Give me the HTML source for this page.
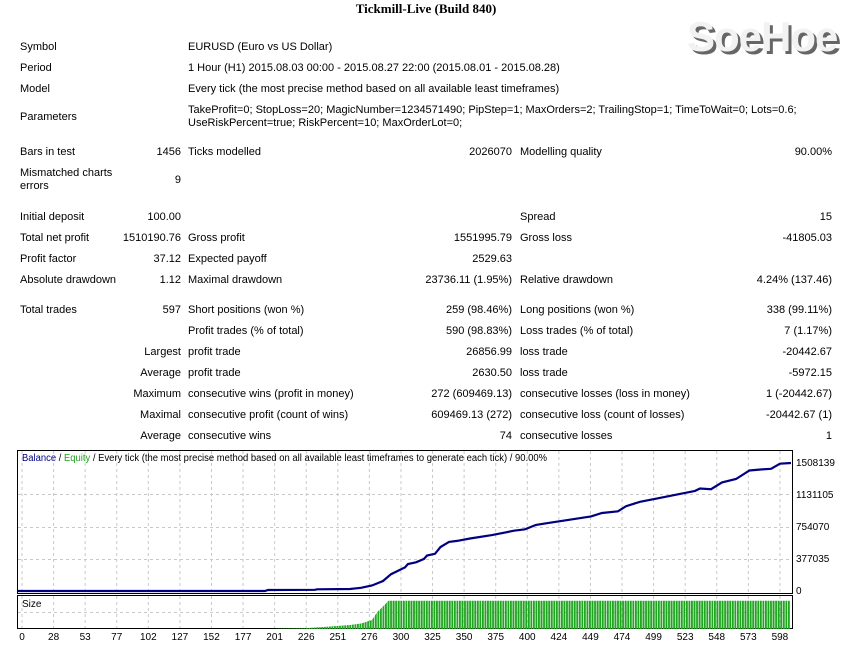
<!DOCTYPE html>
<html><head><meta charset="utf-8"><style>
body{margin:0;width:861px;height:650px;background:#fff;position:relative;overflow:hidden;font-family:"Liberation Sans",sans-serif;font-size:11px;color:#000}
.t{position:absolute;white-space:nowrap;line-height:13px}
.r{text-align:right}
#tb{position:absolute;left:0;top:1px;width:861px;height:450px}
</style></head><body>
<div class="t" style="left:0;width:852px;top:2px;text-align:center;font-family:'Liberation Serif',serif;font-weight:bold;font-size:13px">Tickmill-Live (Build 840)</div>
<div class="t" style="left:687px;top:15px;font-size:42px;line-height:44px;font-weight:bold;color:#f2f2f2;text-shadow:3px 3px 0 #666;letter-spacing:-1px">SoeHoe</div>
<div id="tb">
<div class="t" style="left:20px;top:40px">Symbol</div><div class="t" style="left:188px;top:40px">EURUSD (Euro vs US Dollar)</div>
<div class="t" style="left:20px;top:61px">Period</div><div class="t" style="left:188px;top:61px">1 Hour (H1) 2015.08.03 00:00 - 2015.08.27 22:00 (2015.08.01 - 2015.08.28)</div>
<div class="t" style="left:20px;top:82px">Model</div><div class="t" style="left:188px;top:82px">Every tick (the most precise method based on all available least timeframes)</div>
<div class="t" style="left:20px;top:110px">Parameters</div><div class="t" style="left:188px;top:103px">TakeProfit=0; StopLoss=20; MagicNumber=1234571490; PipStep=1; MaxOrders=2; TrailingStop=1; TimeToWait=0; Lots=0.6;<br>UseRiskPercent=true; RiskPercent=10; MaxOrderLot=0;</div>

<div class="t" style="left:20px;top:145px">Bars in test</div><div class="t r" style="left:100px;width:81px;top:145px">1456</div><div class="t" style="left:188px;top:145px">Ticks modelled</div><div class="t r" style="left:400px;width:112px;top:145px">2026070</div><div class="t" style="left:520px;top:145px">Modelling quality</div><div class="t r" style="left:700px;width:132px;top:145px">90.00%</div>
<div class="t" style="left:20px;top:166px">Mismatched charts<br>errors</div><div class="t r" style="left:100px;width:81px;top:173px">9</div>

<div class="t" style="left:20px;top:210px">Initial deposit</div><div class="t r" style="left:100px;width:81px;top:210px">100.00</div><div class="t" style="left:520px;top:210px">Spread</div><div class="t r" style="left:700px;width:132px;top:210px">15</div>
<div class="t" style="left:20px;top:231px">Total net profit</div><div class="t r" style="left:60px;width:121px;top:231px">1510190.76</div><div class="t" style="left:188px;top:231px">Gross profit</div><div class="t r" style="left:400px;width:112px;top:231px">1551995.79</div><div class="t" style="left:520px;top:231px">Gross loss</div><div class="t r" style="left:700px;width:132px;top:231px">-41805.03</div>
<div class="t" style="left:20px;top:252px">Profit factor</div><div class="t r" style="left:100px;width:81px;top:252px">37.12</div><div class="t" style="left:188px;top:252px">Expected payoff</div><div class="t r" style="left:400px;width:112px;top:252px">2529.63</div>
<div class="t" style="left:20px;top:273px">Absolute drawdown</div><div class="t r" style="left:100px;width:81px;top:273px">1.12</div><div class="t" style="left:188px;top:273px">Maximal drawdown</div><div class="t r" style="left:380px;width:132px;top:273px">23736.11 (1.95%)</div><div class="t" style="left:520px;top:273px">Relative drawdown</div><div class="t r" style="left:700px;width:132px;top:273px">4.24% (137.46)</div>

<div class="t" style="left:20px;top:303px">Total trades</div><div class="t r" style="left:100px;width:81px;top:303px">597</div><div class="t" style="left:188px;top:303px">Short positions (won %)</div><div class="t r" style="left:380px;width:132px;top:303px">259 (98.46%)</div><div class="t" style="left:520px;top:303px">Long positions (won %)</div><div class="t r" style="left:700px;width:132px;top:303px">338 (99.11%)</div>
<div class="t" style="left:188px;top:324px">Profit trades (% of total)</div><div class="t r" style="left:380px;width:132px;top:324px">590 (98.83%)</div><div class="t" style="left:520px;top:324px">Loss trades (% of total)</div><div class="t r" style="left:700px;width:132px;top:324px">7 (1.17%)</div>
<div class="t r" style="left:60px;width:121px;top:345px">Largest</div><div class="t" style="left:188px;top:345px">profit trade</div><div class="t r" style="left:380px;width:132px;top:345px">26856.99</div><div class="t" style="left:520px;top:345px">loss trade</div><div class="t r" style="left:700px;width:132px;top:345px">-20442.67</div>
<div class="t r" style="left:60px;width:121px;top:366px">Average</div><div class="t" style="left:188px;top:366px">profit trade</div><div class="t r" style="left:380px;width:132px;top:366px">2630.50</div><div class="t" style="left:520px;top:366px">loss trade</div><div class="t r" style="left:700px;width:132px;top:366px">-5972.15</div>
<div class="t r" style="left:60px;width:121px;top:387px">Maximum</div><div class="t" style="left:188px;top:387px">consecutive wins (profit in money)</div><div class="t r" style="left:380px;width:132px;top:387px">272 (609469.13)</div><div class="t" style="left:520px;top:387px">consecutive losses (loss in money)</div><div class="t r" style="left:700px;width:132px;top:387px">1 (-20442.67)</div>
<div class="t r" style="left:60px;width:121px;top:408px">Maximal</div><div class="t" style="left:188px;top:408px">consecutive profit (count of wins)</div><div class="t r" style="left:380px;width:132px;top:408px">609469.13 (272)</div><div class="t" style="left:520px;top:408px">consecutive loss (count of losses)</div><div class="t r" style="left:700px;width:132px;top:408px">-20442.67 (1)</div>
<div class="t r" style="left:60px;width:121px;top:429px">Average</div><div class="t" style="left:188px;top:429px">consecutive wins</div><div class="t r" style="left:380px;width:132px;top:429px">74</div><div class="t" style="left:520px;top:429px">consecutive losses</div><div class="t r" style="left:700px;width:132px;top:429px">1</div>
</div>
<svg style="position:absolute;left:0;top:0" width="861" height="650" font-family="Liberation Sans, sans-serif" font-size="10">
<defs>
<pattern id="bars" x="0" y="0" width="2.55" height="10" patternUnits="userSpaceOnUse"><rect x="0" y="0" width="1.9" height="10" fill="#1fa51f"/></pattern>
</defs>
<rect x="17.5" y="450.5" width="775" height="143" fill="#fff" stroke="#000"/>
<rect x="17.5" y="595.5" width="775" height="33" fill="#fff" stroke="#000"/>
<g stroke="#c8c8c8" stroke-dasharray="3,3">
<line x1="18" x2="792" y1="494.5" y2="494.5"/><line x1="18" x2="792" y1="527.5" y2="527.5"/><line x1="18" x2="792" y1="559.5" y2="559.5"/>
<line x1="18" x2="792" y1="612.5" y2="612.5"/>
</g>
<g id="vg" stroke="#c8c8c8" stroke-dasharray="3,3"></g>
<polygon points="276,629 276,628.8 304,628.3 323,627 350,625 361,623.5 372,620 377.6,611.6 383,606.5 388.5,600.7 790,600.7 790,629" fill="url(#bars)"/>
<polyline fill="none" stroke="#000080" stroke-width="2.2" points="18,591 265,591 268,590 315,589.8 317,589.3 350,589 361,587.8 372,585.5 383,581 391,574.2 405,567.4 408,564 416,562.3 424,558.9 427,555.5 435,553.8 440.5,547 449,541.9 457,540.9 470,538.5 492,535.1 514,530.7 525,529.3 536,524.9 547,523.2 569,519.8 591,516.4 602,513 618,511.3 626,506.2 640,501.8 656,498.7 678,494.3 695,490.9 700,488.5 711,489.2 722,482.4 736,479 749.5,470.5 760.5,469.5 771,468.8 780,463.7 791,463"/>
<text x="22" y="461" textLength="525" lengthAdjust="spacingAndGlyphs"><tspan fill="#000080">Balance</tspan> / <tspan fill="#20a020">Equity</tspan> / Every tick (the most precise method based on all available least timeframes to generate each tick) / 90.00%</text>
<text x="22" y="607">Size</text>
<g text-anchor="start">
<text x="796" y="466">1508139</text><text x="796" y="498">1131105</text><text x="796" y="530">754070</text><text x="796" y="562">377035</text><text x="796" y="594">0</text>
</g>
<g id="xl" text-anchor="middle"></g>
</svg>
<script>
var L=[0,28,53,77,102,127,152,177,201,226,251,276,300,325,350,375,400,424,449,474,499,523,548,573,598];
var vg=document.getElementById('vg'),xl=document.getElementById('xl'),ns='http://www.w3.org/2000/svg';
L.forEach(function(v,i){var x=22+i*31.58;
var l=document.createElementNS(ns,'line');l.setAttribute('x1',x);l.setAttribute('x2',x);l.setAttribute('y1',451);l.setAttribute('y2',593);vg.appendChild(l);
var l2=document.createElementNS(ns,'line');l2.setAttribute('x1',x);l2.setAttribute('x2',x);l2.setAttribute('y1',596);l2.setAttribute('y2',628);vg.appendChild(l2);
var t=document.createElementNS(ns,'text');t.setAttribute('x',x);t.setAttribute('y',640);t.textContent=v;xl.appendChild(t);});
</script>
</body></html>
